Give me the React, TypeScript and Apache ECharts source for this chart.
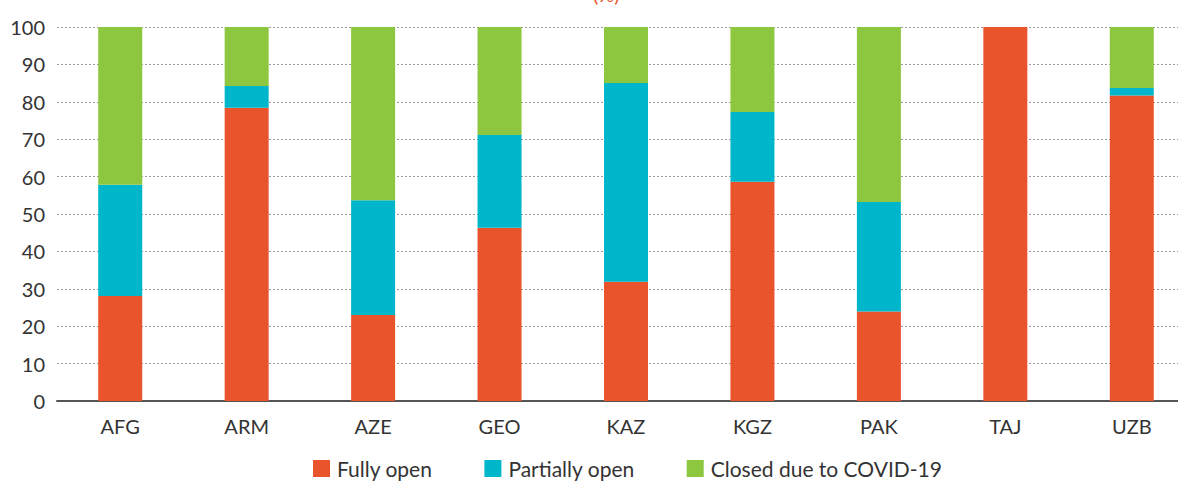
import React, { useEffect, useRef } from "react";
import * as echarts from "echarts";

const categories = ["AFG", "ARM", "AZE", "GEO", "KAZ", "KGZ", "PAK", "TAJ", "UZB"];
const fullyOpen = [28.1, 78.4, 23.0, 46.3, 31.9, 58.6, 23.9, 100, 81.7];
const partiallyOpen = [29.7, 5.8, 30.7, 24.8, 53.1, 18.7, 29.3, 0, 2.0];
const closedCovid = [42.2, 15.8, 46.3, 28.9, 15.0, 22.7, 46.8, 0, 16.3];
const yTicks = [0, 10, 20, 30, 40, 50, 60, 70, 80, 90, 100];

const FONT = "Lato, 'Noto Sans', sans-serif";

export default function App() {
  const ref = useRef<HTMLDivElement>(null);

  useEffect(() => {
    if (!ref.current) return;
    const chart = echarts.init(ref.current, null, { renderer: "svg" });
    const barBase = {
      type: "bar" as const,
      stack: "total",
      barWidth: 44,
      emphasis: { disabled: true },
    };
    chart.setOption({
      animation: false,
      title: {
        text: "(%)",
        left: 588,
        top: -21,
        textStyle: { color: "#EA542D", fontFamily: FONT, fontSize: 20, fontWeight: "normal" },
      },
      legend: {
        bottom: -3,
        left: 308,
        itemWidth: 17,
        itemHeight: 17,
        itemGap: 52,
        icon: "rect",
        textStyle: { color: "#333", fontFamily: FONT, fontSize: 21, padding: [0, 0, 0, 2] },
        data: ["Fully open", "Partially open", "Closed due to COVID-19"],
      },
      grid: {
        left: 57,
        width: 1138,
        top: 27,
        bottom: 80,
        containLabel: false,
        outerBoundsMode: "none",
      },
      xAxis: {
        type: "category",
        data: categories,
        axisLine: { show: true, lineStyle: { color: "#555", width: 2 } },
        axisTick: { show: false },
        axisLabel: { color: "#333", fontFamily: FONT, fontSize: 20, margin: 15 },
      },
      yAxis: {
        type: "value",
        min: 0,
        max: 100,
        interval: 10,
        axisLine: { show: false },
        axisTick: { show: false },
        axisLabel: {
          color: "#333",
          fontFamily: FONT,
          fontSize: 20,
          margin: 12,
          formatter: (v: number) => (yTicks.includes(v) ? String(v) : ""),
        },
        splitLine: { lineStyle: { color: "#999", type: [2, 2], width: 1 } },
      },
      series: [
        { ...barBase, name: "Fully open", data: fullyOpen, itemStyle: { color: "#EA542D" } },
        { ...barBase, name: "Partially open", data: partiallyOpen, itemStyle: { color: "#00B6CA" } },
        { ...barBase, name: "Closed due to COVID-19", data: closedCovid, itemStyle: { color: "#8DC63F" } },
      ],
    });
    return () => chart.dispose();
  }, []);

  return <div ref={ref} style={{ width: 1178, height: 481, position: "absolute", left: 0, top: 0, overflow: "hidden" }} />;
}
